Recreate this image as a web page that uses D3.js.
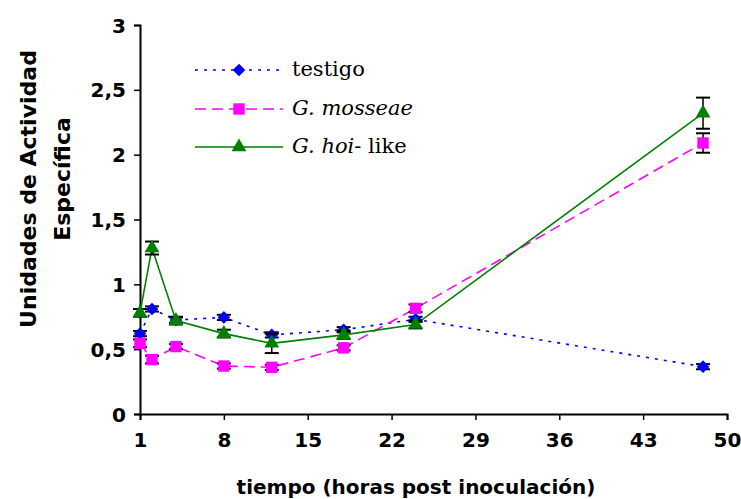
<!DOCTYPE html>
<html>
<head>
<meta charset="utf-8">
<script src="https://cdn.jsdelivr.net/npm/d3@7"></script>
<style>
  body { margin: 0; background: #fff; }
  .tick text { font-family: "DejaVu Sans", sans-serif; font-weight: bold; font-size: 20px; }
  .ttl { font-family: "DejaVu Sans", sans-serif; font-weight: bold; font-size: 20px; }
  .ttl.yt { font-size: 22px; }
  .leg { font-family: "DejaVu Serif", serif; font-size: 21px; }
</style>
</head>
<body>
<div id="chart"></div>
<script>
(function(d3) {
  'use strict';

  var hours = [1, 2, 4, 8, 12, 18, 24, 48];
  var testigo = [0.62, 0.81, 0.725, 0.745, 0.61, 0.65, 0.73, 0.365];
  var testigoErr = [0.02, 0.02, 0.02, 0.02, 0.02, 0.02, 0.02, 0.02];
  var mosseae = [0.545, 0.42, 0.52, 0.37, 0.36, 0.51, 0.815, 2.09];
  var mosseaeErr = [0.03, 0.03, 0.02, 0.02, 0.02, 0.02, 0.03, 0.075];
  var hoi = [0.78, 1.28, 0.72, 0.62, 0.545, 0.61, 0.69, 2.32];
  var hoiErr = [0.03, 0.05, 0.03, 0.03, 0.075, 0.03, 0.03, 0.12];
  var xTicks = [1, 8, 15, 22, 29, 36, 43, 50];
  var yTicks = [0, 0.5, 1, 1.5, 2, 2.5, 3];

  var series = [
    { name: 'testigo', vals: testigo, err: testigoErr, color: '#0000ff', dash: '3,6', symbol: d3.symbolSquare, size: 80, rot: 45 },
    { name: 'mosseae', vals: mosseae, err: mosseaeErr, color: '#ff00ff', dash: '11,6', symbol: d3.symbolSquare, size: 130, rot: 0 },
    { name: 'hoi', vals: hoi, err: hoiErr, color: '#008000', dash: null, symbol: d3.symbolTriangle, size: 95, rot: 0 }
  ];

  var width = 741, height = 499;
  var svg = d3.select('#chart').append('svg')
    .attr('width', width)
    .attr('height', height);

  var x = d3.scaleLinear().domain([1, 50]).range([140, 727]);
  var y = d3.scaleLinear().domain([0, 3]).range([414, 25]);
  var fmt = function(v) { return String(v).replace('.', ','); };

  var xAxis = svg.append('g')
    .attr('transform', 'translate(0,' + y(0) + ')')
    .call(d3.axisBottom(x).tickValues(xTicks).tickSize(6).tickPadding(13).tickFormat(d3.format('d')));
  var yAxis = svg.append('g')
    .attr('transform', 'translate(' + x(1) + ',0)')
    .call(d3.axisLeft(y).tickValues(yTicks).tickSize(6).tickPadding(8).tickFormat(fmt));
  [xAxis, yAxis].forEach(function(a) {
    a.select('.domain').attr('stroke', '#000').attr('stroke-width', 2);
    a.selectAll('.tick line').attr('stroke', '#000').attr('stroke-width', 1.5);
  });
  yAxis.selectAll('.tick text').attr('dy', '0.35em');
  xAxis.selectAll('.tick text').attr('dy', '0.71em');

  // axis titles
  svg.append('text').attr('class', 'ttl yt')
    .attr('transform', 'translate(36,189) rotate(-90)')
    .attr('text-anchor', 'middle')
    .text('Unidades de Actividad');
  svg.append('text').attr('class', 'ttl yt')
    .attr('transform', 'translate(70,179) rotate(-90)')
    .attr('text-anchor', 'middle')
    .text('Específica');
  svg.append('text').attr('class', 'ttl')
    .attr('x', 416).attr('y', 494)
    .attr('text-anchor', 'middle')
    .text('tiempo (horas post inoculación)');

  var line = d3.line()
    .x(function(d) { return x(d.h); })
    .y(function(d) { return y(d.v); });

  series.forEach(function(s) {
    var pts = hours.map(function(h, i) { return { h: h, v: s.vals[i], e: s.err[i] }; });
    var g = svg.append('g');

    g.append('path')
      .datum(pts)
      .attr('d', line)
      .attr('fill', 'none')
      .attr('stroke', s.color)
      .attr('stroke-width', 1.6)
      .attr('stroke-dasharray', s.dash);

    // error bars
    var eb = g.selectAll('g.err').data(pts).enter().append('g').attr('class', 'err');
    eb.append('line')
      .attr('x1', function(d) { return x(d.h); })
      .attr('x2', function(d) { return x(d.h); })
      .attr('y1', function(d) { return y(d.v - d.e); })
      .attr('y2', function(d) { return y(d.v + d.e); })
      .attr('stroke', '#000').attr('stroke-width', 1.5);
    [-1, 1].forEach(function(sg) {
      eb.append('line')
        .attr('x1', function(d) { return x(d.h) - 7; })
        .attr('x2', function(d) { return x(d.h) + 7; })
        .attr('y1', function(d) { return y(d.v + sg * d.e); })
        .attr('y2', function(d) { return y(d.v + sg * d.e); })
        .attr('stroke', '#000').attr('stroke-width', 2);
    });

    g.selectAll('path.mk').data(pts).enter().append('path')
      .attr('class', 'mk')
      .attr('transform', function(d) { return 'translate(' + x(d.h) + ',' + y(d.v) + ') rotate(' + s.rot + ')'; })
      .attr('d', d3.symbol().type(s.symbol).size(s.size))
      .attr('fill', s.color);
  });

  // legend
  var legRows = [
    { s: series[0], y: 70, parts: [{ t: 'testigo', it: false }] },
    { s: series[1], y: 109, parts: [{ t: 'G. mosseae', it: true }] },
    { s: series[2], y: 147, parts: [{ t: 'G. ', it: true }, { t: 'hoi', it: true }, { t: '- like', it: false }] }
  ];
  var leg = svg.append('g');
  legRows.forEach(function(r) {
    leg.append('line')
      .attr('x1', 195).attr('x2', 283)
      .attr('y1', r.y).attr('y2', r.y)
      .attr('stroke', r.s.color).attr('stroke-width', 1.6)
      .attr('stroke-dasharray', r.s.dash);
    leg.append('path')
      .attr('transform', 'translate(239,' + r.y + ') rotate(' + r.s.rot + ')')
      .attr('d', d3.symbol().type(r.s.symbol).size(r.s.size))
      .attr('fill', r.s.color);
    var t = leg.append('text').attr('class', 'leg')
      .attr('x', 292).attr('y', r.y + 6);
    r.parts.forEach(function(p) {
      t.append('tspan').attr('font-style', p.it ? 'italic' : 'normal').text(p.t);
    });
  });
}(d3));
</script>
</body>
</html>
